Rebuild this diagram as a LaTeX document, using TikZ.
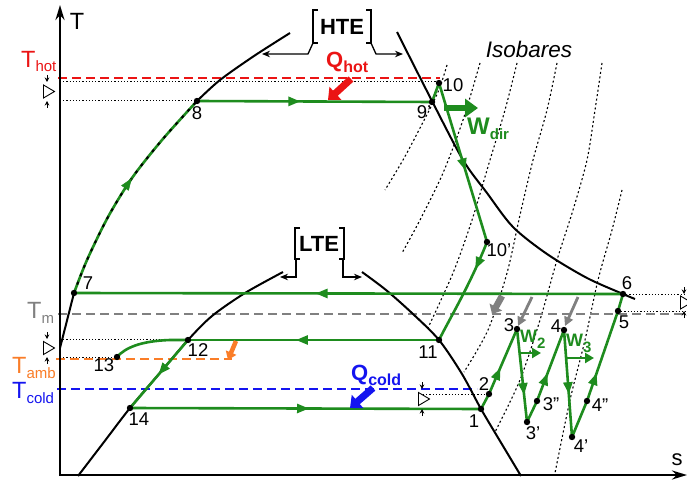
\documentclass[tikz,border=0pt]{standalone}
\usepackage{fontspec}
\setmainfont{Liberation Sans}
\usetikzlibrary{arrows.meta,decorations.markings}
\definecolor{cgreen}{RGB}{30,140,30}
\definecolor{cred}{RGB}{235,20,20}
\definecolor{cblue}{RGB}{20,20,240}
\definecolor{corange}{RGB}{250,125,40}
\definecolor{cgray}{RGB}{128,128,128}
\newcommand\dTmark[3]{%
  \draw[line width=0.9pt,-{Stealth[length=4.5pt,width=4.5pt]}] (#1,#2-7) -- (#1,#2);
  \draw[line width=0.9pt,-{Stealth[length=4.5pt,width=4.5pt]}] (#1,#3+7) -- (#1,#3);
  \draw[line width=0.9pt,fill=white] (#1-3.5,{(#2+#3)/2-6.5}) -- (#1+7.5,{(#2+#3)/2}) -- (#1-3.5,{(#2+#3)/2+6.5}) -- cycle;
}
\newcommand\sbr[2]{\raisebox{#1}{\fontsize{15}{15}\selectfont #2}}
\newcommand\sbb[2]{\raisebox{#1}{\fontsize{16}{16}\selectfont\bfseries #2}}
\begin{document}
\begin{tikzpicture}[x=1pt,y=-1pt,
  dome/.style={line width=2pt,black},
  proc/.style={line width=2.6pt,cgreen},
  midarr/.style={postaction={decorate,decoration={markings,mark=at position #1 with {\arrow{Triangle[length=12pt,width=9pt]}}}}},
  dotl/.style={line width=1pt,dash pattern=on 1.2pt off 2pt},
  iso/.style={line width=1.1pt,dash pattern=on 2pt off 2.5pt},
  tline/.style={line width=1.7pt,dash pattern=on 9pt off 5pt},
  lab/.style={font=\fontsize{18.5}{18.5}\selectfont,inner sep=0pt},
  big/.style={font=\fontsize{23.5}{23.5}\selectfont,inner sep=0pt,anchor=base west},
  bigb/.style={font=\fontsize{22}{22}\selectfont\bfseries,inner sep=0pt,anchor=base west},
  fat/.style={line width=7pt,-{Triangle[length=10pt,width=17pt]}},
  brk/.style={line width=1.6pt},
  brkarr/.style={line width=1.3pt,-{Stealth[length=8pt,width=6.5pt]}},
]
\useasboundingbox (0,0) rectangle (687,481);
\fill[white] (0,0) rectangle (687,481);

% isobars
\draw[iso] plot[smooth] coordinates {(447,65) (438,92) (420,128) (403,160) (385,190)};
\draw[iso] plot[smooth] coordinates {(480,63) (463,120) (443,173) (420,220) (402,253)};
\draw[iso] plot[smooth] coordinates {(517,63) (505,110) (490,160) (472,220) (453,273) (427,330)};
\draw[iso] plot[smooth] coordinates {(557,63) (547,110) (533,160) (520,215) (507,273) (488,330) (464,372)};
\draw[iso] plot[smooth] coordinates {(602,63) (595,110) (587,160) (573,210) (557,260) (540,320) (520,380) (495,432)};
\draw[iso] plot[smooth] coordinates {(622,190) (612,230) (598,280) (585,340) (570,400) (555,473)};

% temperature levels
\draw[tline,cred] (58,78) -- (440,78);
\draw[dotl] (60,82) -- (439,82);
\draw[dotl] (60,101) -- (197,101);
\draw[tline,cgray] (58,314) -- (687,314);
\draw[dotl] (623,294) -- (687,294);
\draw[dotl] (618,311) -- (687,311);
\draw[dotl] (60,339) -- (176,339);
\draw[dotl] (60,357) -- (117,357);
\draw[tline,corange] (56,359) -- (232,359);
\draw[tline,cblue] (57,389) -- (477,389);
\draw[dotl] (423,394) -- (489,394);

% state points
\coordinate (p1) at (481,409);
\coordinate (p2) at (489,394);
\coordinate (p3) at (517,329);
\coordinate (p3a) at (527,422);
\coordinate (p3b) at (537,401);
\coordinate (p4) at (564,330);
\coordinate (p4a) at (572,437);
\coordinate (p4b) at (587,401);
\coordinate (p5) at (618,311);
\coordinate (p6) at (623,294);
\coordinate (p7) at (74,293);
\coordinate (p8) at (197,101);
\coordinate (p9) at (432,102);
\coordinate (p10) at (439,83);
\coordinate (p10a) at (487,242);
\coordinate (p11) at (439,340);
\coordinate (p12) at (188,340);
\coordinate (p13) at (117,357);
\coordinate (p14) at (130,408);

% domes
\draw[dome] plot[smooth] coordinates {(78,476) (104,442) (130,408) (159,374) (188,340) (212,316) (245,293) (283,272)};
\draw[dome] plot[smooth] coordinates {(362,272) (386,290) (413,314) (439,340) (462,374) (481,409) (500,441) (521,476)};
\draw[dome] (60,348) -- (p7);
\draw[dome] plot[smooth] coordinates {(197,101) (220,80) (254,56) (290,33)};
\draw[dome] plot[smooth] coordinates {(397,32) (432,101) (463,160) (487,193) (513,227) (547,254) (587,278) (623,294) (635,299)};

% process 7-8 along the liquid line
\draw[proc] plot[smooth] coordinates {(74,293) (87,260) (108,217) (132,178) (162,140) (197,101)};
\draw[line width=2pt,dash pattern=on 3pt off 6pt] plot[smooth] coordinates {(74,293) (87,260) (108,217) (132,178) (162,140) (197,101)};
\path[color=cgreen,midarr=0.56] plot[smooth] coordinates {(74,293) (87,260) (108,217) (132,178) (162,140) (197,101)};

% cycle
\draw[proc,midarr=0.44] (p8) -- (p9);
\draw[proc] (p9) -- (p10);
\draw[proc,midarr=0.55] (p10) -- (p10a);
\draw[proc,midarr=0.27] (p10a) .. controls (470,285) and (450,318) .. (p11);
\draw[proc,midarr=0.57] (p11) -- (p12);
\draw[proc] (p12) -- (170,340) .. controls (140,341) and (125,348) .. (p13);
\draw[proc,midarr=0.51] (p12) -- (p14);
\draw[proc,midarr=0.51] (p14) -- (p1);
\draw[proc] (p1) -- (p2);
\draw[proc,midarr=0.4] (p2) -- (p3);
\draw[proc,midarr=0.71] (p3) -- (p3a);
\draw[proc] (p3a) -- (p3b);
\draw[proc,midarr=0.39] (p3b) -- (p4);
\draw[proc,midarr=0.6] (p4) -- (p4a);
\draw[proc] (p4a) -- (p4b);
\draw[proc,midarr=0.31] (p4b) -- (p5);
\draw[proc] (p5) -- (p6);
\draw[proc,midarr=0.56] (p6) -- (p7);

\foreach \p in {p1,p2,p3,p3a,p3b,p4,p4a,p4b,p5,p6,p7,p8,p9,p10,p10a,p11,p12,p13,p14}
  \fill (\p) circle (3.2pt);

% heat and work arrows
\draw[fat,cred] (351,79) -- (328,100);
\draw[fat,cblue] (373,388) -- (350,408);
\draw[cgray,line width=6.5pt,-{Triangle[length=8pt,width=14pt]}] (502,296) -- (492,314);
\draw[cgray,line width=2.8pt,-{Triangle[length=9pt,width=9pt]}] (532,297) -- (518,326);
\draw[cgray,line width=2.8pt,-{Triangle[length=9pt,width=9pt]}] (578,297) -- (565,326);
\draw[corange,line width=4.5pt,-{Triangle[length=8pt,width=11pt]}] (236,341) -- (228,360);
\draw[cgreen,line width=5.5pt,-{Triangle[length=13pt,width=18pt]}] (444,108) -- (478,108);
\draw[cgreen,line width=2.8pt,-{Triangle[length=9pt,width=10pt]}] (520,353) -- (541,353);
\draw[cgreen,line width=2.8pt,-{Triangle[length=9pt,width=10pt]}] (566,358) -- (594,358);

% gap markers
\dTmark{47}{82}{101}
\dTmark{47}{339}{357}
\dTmark{422}{389}{409}
\dTmark{684}{294}{311}

% axes
\draw[line width=2.4pt,-{Stealth[length=15pt,width=9pt]}] (60,476) -- (60,5);
\draw[line width=2.4pt,-{Stealth[length=15pt,width=9pt]}] (59,475) -- (687,475);

% HTE bracket
\draw[brk] (318,10) -- (313,10) -- (313,43) -- (318,43);
\draw[brk] (366,10) -- (371,10) -- (371,43) -- (366,43);
\draw[brkarr] (313,43) -- (308,54) -- (262,54);
\draw[brkarr] (371,43) -- (376,54) -- (403,54);
\node[bigb,anchor=center] (hte) at (342,27) {HTE};
% LTE bracket
\draw[brk] (300,228) -- (295,228) -- (295,259) -- (300,259);
\draw[brk] (339,228) -- (344,228) -- (344,259) -- (339,259);
\draw[brkarr] (296,259) -- (296,277) -- (280,277);
\draw[brkarr] (343,259) -- (343,277) -- (362,277);
\node[bigb,anchor=center] (lte) at (319,244) {LTE};

% point labels
\node[lab] (n1) at (474,421) {1};
\node[lab] (n2) at (484,384) {2};
\node[lab] (n3) at (509,325) {3};
\node[lab] (n3a) at (533,433) {3'};
\node[lab] (n3b) at (551,404) {3"};
\node[lab] (n4) at (556,326) {4};
\node[lab] (n4a) at (581,446) {4'};
\node[lab] (n4b) at (600,405) {4"};
\node[lab] (n5) at (624,322) {5};
\node[lab] (n6) at (627,283) {6};
\node[lab] (n7) at (88,283) {7};
\node[lab] (n8) at (197,113) {8};
\node[lab] (n9) at (424,112) {9'};
\node[lab] (n10) at (453,85) {10};
\node[lab] (n10a) at (499,250) {10'};
\node[lab] (n11) at (428,352) {11};
\node[lab] (n12) at (198,350) {12};
\node[lab] (n13) at (104,365) {13};
\node[lab] (n14) at (139,419) {14};

% axis and level labels
\node[big,anchor=center] (tax) at (77,21) {T};
\node[font=\fontsize{22}{22}\selectfont,inner sep=0pt] (sax) at (677,460) {s};
\node[font=\fontsize{22.5}{22.5}\selectfont\itshape,inner sep=0pt] (isob) at (529,49) {Isobares};
\node[big,cred] (thot) at (21,68) {T\sbr{-4pt}{hot}};
\node[big,cgray] (tm) at (27,318) {T\sbr{-5pt}{m}};
\node[big,corange] (tamb) at (12,373) {T\sbr{-5pt}{amb}};
\node[big,cblue] (tcold) at (12,398) {T\sbr{-5pt}{cold}};
\node[bigb,cred] (qhot) at (326,68) {Q\sbb{-5pt}{hot}};
\node[bigb,cblue] (qcold) at (351,380) {Q\sbb{-5pt}{cold}};
\node[font=\fontsize{24}{24}\selectfont\bfseries,inner sep=0pt,anchor=base west,cgreen] (wdir) at (467,135) {W\raisebox{-5pt}{\fontsize{15}{15}\selectfont\bfseries dir}};
\node[font=\fontsize{18}{18}\selectfont\bfseries,inner sep=0pt,anchor=base west,cgreen] (w2) at (520,342) {W\raisebox{-6pt}{\fontsize{15}{15}\selectfont\bfseries 2}};
\node[font=\fontsize{18}{18}\selectfont\bfseries,inner sep=0pt,anchor=base west,cgreen] (w3) at (566,346) {W\raisebox{-6pt}{\fontsize{15}{15}\selectfont\bfseries 3}};
\end{tikzpicture}
\end{document}
